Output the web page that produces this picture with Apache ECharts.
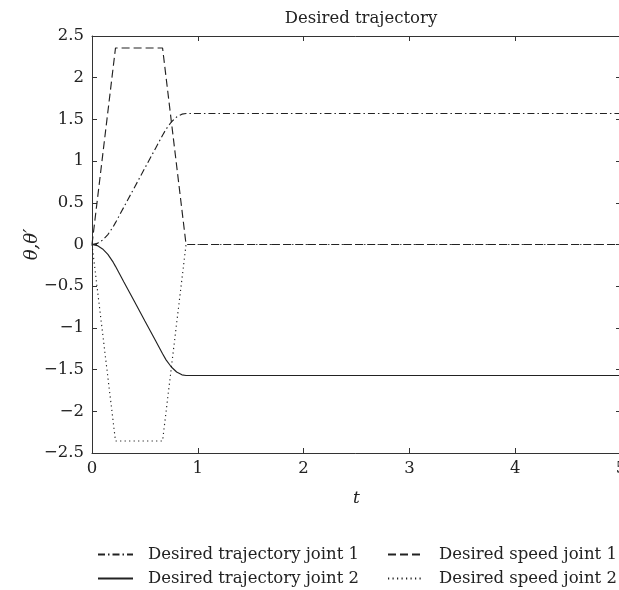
<!DOCTYPE html>
<html>
<head>
<meta charset="utf-8">
<script src="https://cdn.jsdelivr.net/npm/echarts@6/dist/echarts.min.js"></script>
<style>
  html, body { margin: 0; padding: 0; background: #fff; }
  #chart { width: 619px; height: 590px; }
</style>
</head>
<body>
<div id="chart"></div>
<script>
// Time samples (s) and joint angles / speeds for the planned motion
const trajTime = [0, 0.05, 0.1, 0.15, 0.2, 0.222, 0.3, 0.4, 0.5, 0.6, 0.667, 0.7, 0.75, 0.8, 0.85, 0.889, 5];
const trajJoint1 = [0, 0.013, 0.053, 0.119, 0.212, 0.262, 0.446, 0.681, 0.917, 1.152, 1.31, 1.383, 1.469, 1.529, 1.563, 1.571, 1.571];
const trajJoint2 = [0, -0.013, -0.053, -0.119, -0.212, -0.262, -0.446, -0.681, -0.917, -1.152, -1.31, -1.383, -1.469, -1.529, -1.563, -1.571, -1.571];

const speedTime = [0, 0.222, 0.667, 0.889, 5];
const speedJoint1 = [0, 2.356, 2.356, 0, 0];
const speedJoint2 = [0, -2.356, -2.356, 0, 0];

const xTicks = [0, 1, 2, 3, 4, 5];
const yTicks = [-2.5, -2, -1.5, -1, -0.5, 0, 0.5, 1, 1.5, 2, 2.5];

const names = {
  t1: 'Desired trajectory joint 1',
  t2: 'Desired trajectory joint 2',
  s1: 'Desired speed joint 1',
  s2: 'Desired speed joint 2'
};

const serif = 'DejaVu Serif';
const ink = '#222';

function pairs(xs, ys) { return xs.map((x, i) => [x, ys[i]]); }
function minus(v) { return String(v).replace('-', '\u2212'); }

const axisCommon = {
  axisLine: { show: true, onZero: false, lineStyle: { color: '#333', width: 1 } },
  axisTick: { show: true, inside: true, length: 5, lineStyle: { color: '#333' } },
  splitLine: { show: false }
};

function lineSeries(name, data, type) {
  return {
    name: name, type: 'line', data: data, symbol: 'none', smooth: false,
    xAxisIndex: 0, yAxisIndex: 0,
    lineStyle: { color: ink, width: 1.15, type: type },
    itemStyle: { color: ink },
    animation: false
  };
}

function legendBlock(items, left, sampleWidth, textPad) {
  return {
    data: items, orient: 'vertical', left: left, top: 541, height: 70,
    itemWidth: sampleWidth, itemHeight: 12, itemGap: 7,
    itemStyle: { opacity: 0 },
    textStyle: { fontFamily: serif, fontSize: 16.5, color: ink, padding: [0, 0, 0, textPad] },
    selectedMode: false
  };
}

const chart = echarts.init(document.getElementById('chart'), null, { renderer: 'canvas' });
chart.setOption({
  backgroundColor: '#fff',
  title: {
    text: 'Desired trajectory', left: 356, top: 5, textAlign: 'center',
    textStyle: { fontFamily: serif, fontSize: 16.5, fontWeight: 'normal', color: ink }
  },
  grid: { left: 92, top: 36, width: 529, height: 417, containLabel: false, outerBoundsMode: 'none' },
  xAxis: [
    Object.assign({}, axisCommon, {
      type: 'value', min: 0, max: 5, interval: 1, position: 'bottom',
      name: 't', nameLocation: 'middle', nameGap: 37, nameMoveOverlap: false,
      nameTextStyle: { fontFamily: serif, fontSize: 17, fontStyle: 'italic', color: ink },
      axisLabel: { fontFamily: serif, fontSize: 16.5, color: ink, margin: 7, formatter: v => minus(v) }
    }),
    Object.assign({}, axisCommon, {
      type: 'value', min: 0, max: 5, interval: 1, position: 'top',
      axisLabel: { show: false }
    })
  ],
  yAxis: [
    Object.assign({}, axisCommon, {
      type: 'value', min: -2.5, max: 2.5, interval: 0.5, position: 'left',
      name: '\u03b8,\u03b8\u2032', nameLocation: 'middle', nameGap: 51, nameRotate: 90,
      nameMoveOverlap: false,
      nameTextStyle: { fontFamily: serif, fontSize: 18, fontStyle: 'italic', color: ink },
      axisLabel: { fontFamily: serif, fontSize: 16.5, color: ink, margin: 8, formatter: v => minus(v) }
    }),
    Object.assign({}, axisCommon, {
      type: 'value', min: -2.5, max: 2.5, interval: 0.5, position: 'right',
      axisLabel: { show: false }
    })
  ],
  legend: [
    legendBlock([names.t1, names.t2], 92, 35, 10),
    legendBlock([names.s1, names.s2], 382, 36, 10)
  ],
  series: [
    lineSeries(names.t1, pairs(trajTime, trajJoint1), [7, 3, 1.5, 3]),
    lineSeries(names.t2, pairs(trajTime, trajJoint2), 'solid'),
    lineSeries(names.s1, pairs(speedTime, speedJoint1), [8, 4]),
    lineSeries(names.s2, pairs(speedTime, speedJoint2), [1.2, 3.3])
  ]
});
</script>
</body>
</html>
